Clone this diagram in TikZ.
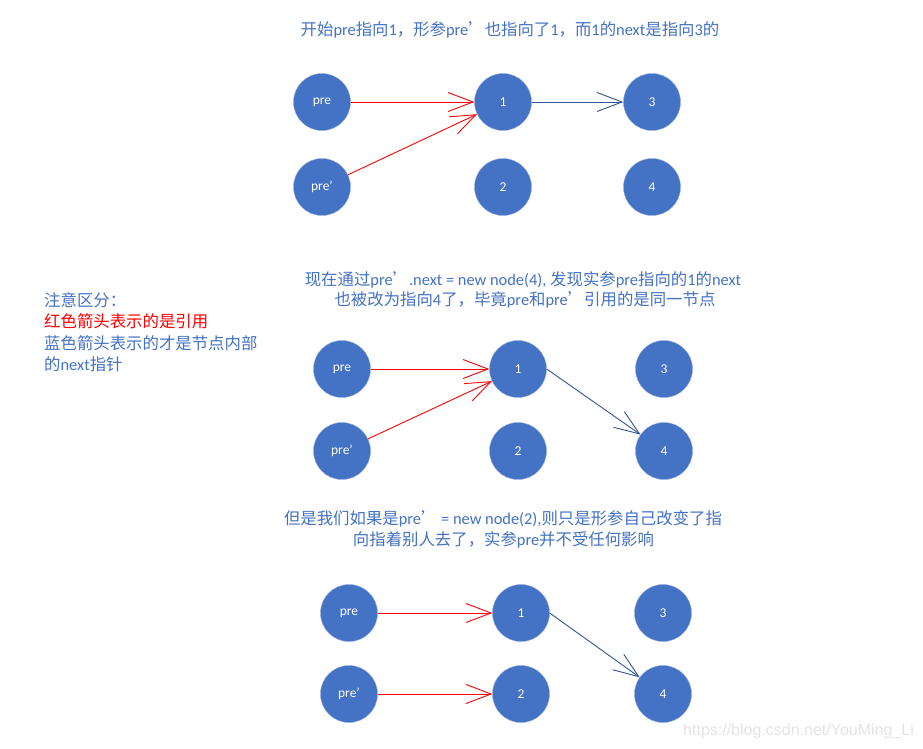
\documentclass[tikz,border=0pt]{standalone}
\usepackage{fontspec}
\setmainfont{Carlito}
\newfontfamily\cjk{Noto Sans CJK SC}
\newfontfamily\lat{Carlito}
\newfontfamily\wm{Liberation Sans}
\usetikzlibrary{arrows.meta}
\definecolor{nodeblue}{HTML}{4472C4}
\definecolor{textblue}{HTML}{4472C4}
\definecolor{nextblue}{HTML}{2F5597}
\definecolor{refred}{HTML}{FF0000}
\definecolor{wmgray}{HTML}{E4E4E4}
\begin{document}
\begin{tikzpicture}[x=1pt,y=-1pt,
  ball/.style={circle,fill=nodeblue,draw=nodeblue!60,line width=0.4pt,minimum size=57pt,inner sep=0pt,text=white,font=\lat\fontsize{13.5}{13.5}\selectfont},
  ref/.style={draw=refred,line width=0.9pt,-{Straight Barb[length=25pt,width=19pt,line width=0.9pt]}},
  nxt/.style={draw=nextblue,line width=0.9pt,-{Straight Barb[length=25pt,width=19pt,line width=0.9pt]}},
  txt/.style={text=textblue,font=\cjk\fontsize{16.4}{19}\selectfont,inner sep=0pt},
  leftline/.style={txt,anchor=west}]
\useasboundingbox (0,0) rectangle (923,748);
\fill[white] (0,0) rectangle (923,748);

% ---------- diagram 1 ----------
\node[txt] (t1) at (510,30) {开始{\lat pre}指向{\lat 1}，形参{\lat pre}’也指向了{\lat 1}，而{\lat 1}的{\lat next}是指向{\lat 3}的};
\node[ball] (a-pre)  at (322,102) {pre};
\node[ball] (a-1)    at (503,102) {1};
\node[ball] (a-3)    at (652,102) {3};
\node[ball] (a-prep) at (322,187) {pre’};
\node[ball] (a-2)    at (503,187) {2};
\node[ball] (a-4)    at (652,187) {4};
\draw[ref] (a-pre) -- (a-1);
\draw[ref] (a-prep) -- (a-1);
\draw[nxt] (a-1) -- (a-3);

% ---------- note ----------
\node[leftline] (n1) at (44,300) {注意区分：};
\node[leftline,text=refred] (n2) at (44,321) {红色箭头表示的是引用};
\node[leftline] (n3) at (44,343) {蓝色箭头表示的才是节点内部};
\node[leftline] (n4) at (44,364) {的{\lat next}指针};

% ---------- diagram 2 ----------
\node[txt] (t2a) at (523,279.5) {现在通过{\lat pre}’{\lat .next = new node(4), }发现实参{\lat pre}指向的{\lat 1}的{\lat next}};
\node[txt] (t2b) at (525,300) {也被改为指向{\lat 4}了，毕竟{\lat pre}和{\lat pre}’引用的是同一节点};
\node[ball] (b-pre)  at (342,369) {pre};
\node[ball] (b-1)    at (518,369) {1};
\node[ball] (b-3)    at (664,369) {3};
\node[ball] (b-prep) at (342,451) {pre’};
\node[ball] (b-2)    at (518,451) {2};
\node[ball] (b-4)    at (664,451) {4};
\draw[ref] (b-pre) -- (b-1);
\draw[ref] (b-prep) -- (b-1);
\draw[nxt] (b-1.east) -- (b-4);

% ---------- diagram 3 ----------
\node[txt] (t3a) at (503,519) {但是我们如果是{\lat pre}’ {\lat = new node(2),}则只是形参自己改变了指};
\node[txt] (t3b) at (503.5,540) {向指着别人去了，实参{\lat pre}并不受任何影响};
\node[ball] (c-pre)  at (349,613) {pre};
\node[ball] (c-1)    at (521,613) {1};
\node[ball] (c-3)    at (663,613) {3};
\node[ball] (c-prep) at (349,694) {pre’};
\node[ball] (c-2)    at (521,694) {2};
\node[ball] (c-4)    at (663,694) {4};
\draw[ref] (c-pre) -- (c-1);
\draw[ref] (c-prep) -- (c-2);
\draw[nxt] (c-1.east) -- (c-4);

% ---------- watermark ----------
\node[anchor=base west,inner sep=0pt,text=wmgray,font=\wm\fontsize{16}{16}\selectfont] (wm) at (683,735) {https://blog.csdn.net/YouMing\_Li};
\end{tikzpicture}
\end{document}
